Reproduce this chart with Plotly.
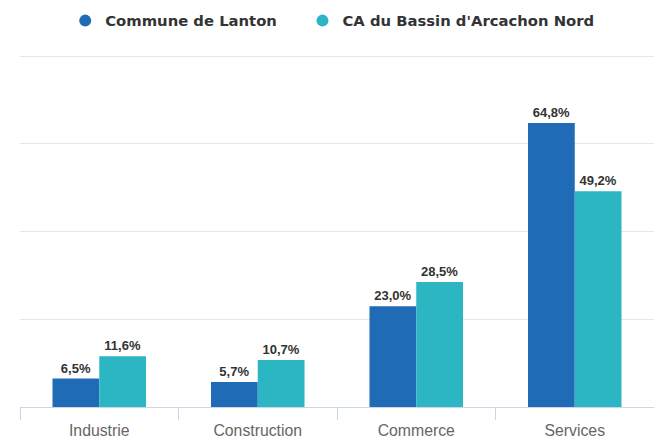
import plotly.graph_objects as go

categories = ["Industrie", "Construction", "Commerce", "Services"]
lanton = [6.5, 5.7, 23.0, 64.8]
cobas_nord = [11.6, 10.7, 28.5, 49.2]
series_names = ["Commune de Lanton", "CA du Bassin d'Arcachon Nord"]
colors = ["#1f6bb6", "#2cb5c3"]

def fmt(v):
    return f"{v:.1f}%".replace(".", ",")

fig = go.Figure()
for i, (name, vals, col) in enumerate(zip(series_names, [lanton, cobas_nord], colors)):
    fig.add_trace(go.Bar(
        x=categories, y=vals, name=name, marker_color=col, marker_line_width=0,
        text=[fmt(v) for v in vals], textposition="outside", cliponaxis=False,
        textfont=dict(family="Liberation Sans, Arial", size=13, color="#333333", weight="bold"),
        showlegend=False, hoverinfo="skip",
    ))
    legend_label = name + ("\u00a0" * 4 if i == 0 else "")
    fig.add_trace(go.Scatter(
        x=[None], y=[None], mode="markers", name=legend_label,
        marker=dict(symbol="circle", size=14, color=col), showlegend=True,
    ))

fig.update_layout(
    width=654, height=441,
    margin=dict(l=20, r=0, t=55, b=34, autoexpand=False),
    paper_bgcolor="white", plot_bgcolor="white",
    barmode="group", bargap=0.41, bargroupgap=0,
    font=dict(family="Liberation Sans, Arial", color="#333333"),
    legend=dict(orientation="h", x=0.508, xanchor="center", xref="container",
                y=1 - 21 / 441, yanchor="middle", yref="container",
                font=dict(family="DejaVu Sans", size=14.8, color="#333333", weight="bold"),
                itemsizing="constant", tracegroupgap=0),
    xaxis=dict(type="category", showline=True, linecolor="#ccd6eb", linewidth=1,
               ticks="outside", tickson="boundaries", ticklen=12, tickcolor="#ccd6eb",
               tickfont=dict(size=15.8, color="#666666"), ticklabelstandoff=9,
               showgrid=False, fixedrange=True, automargin=False),
    yaxis=dict(range=[0, 80.3], dtick=20, showticklabels=False, gridcolor="#e6e6e6",
               gridwidth=1, zeroline=False, showline=False, ticks="", automargin=False),
)
fig.write_html(
    "out.html",
    config={"displayModeBar": False},
    post_script="document.body.style.margin='0';document.body.style.overflow='hidden';",
)
